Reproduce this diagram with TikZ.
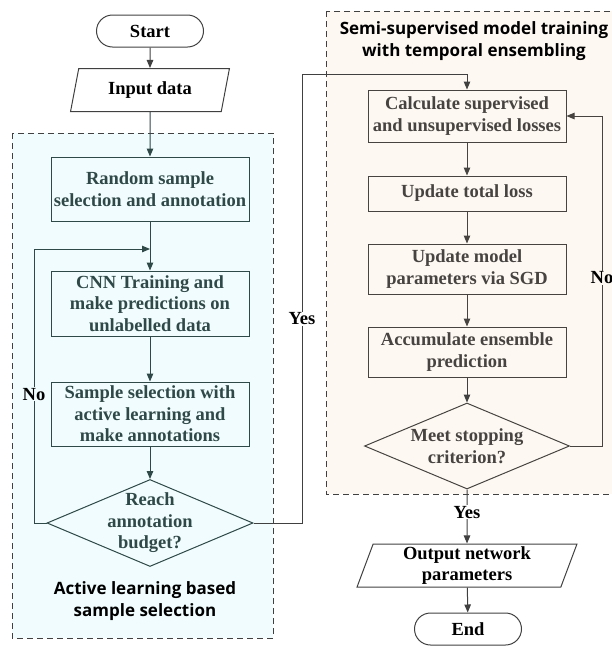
\documentclass[tikz,border=0pt]{standalone}
\usepackage{fontspec}
\setmainfont{Liberation Serif}
\newfontfamily\grpfont{Open Sans}
\usetikzlibrary{arrows.meta,shapes.geometric,shapes.misc,calc}
\definecolor{linec}{HTML}{404040}
\definecolor{leftc}{HTML}{2F4848}
\definecolor{rightc}{HTML}{474340}
\definecolor{leftfill}{HTML}{F0FCFD}
\definecolor{rightfill}{HTML}{FDF8F2}
\begin{document}
\begin{tikzpicture}[x=1pt,y=-1pt,
  txt/.style={font=\bfseries\fontsize{18.5}{21.5}\selectfont, align=center},
  box/.style={txt, draw=#1, line width=1pt, minimum width=198pt, inner sep=0pt},
  term/.style={txt, draw=linec, line width=1pt, rounded rectangle, minimum width=107pt, minimum height=32pt, inner sep=0pt, text=black},
  para/.style={txt, draw=linec, line width=1pt, trapezium, trapezium left angle=74, trapezium right angle=106, trapezium stretches=true, minimum height=43pt, inner sep=0pt, text=black},
  dia/.style={draw=#1, line width=1pt, diamond, minimum width=206pt, minimum height=87pt, inner sep=0pt},
  arrow/.style={-{Triangle[length=8pt,width=6.5pt]}, draw=#1, line width=1pt},
  arrow/.default=linec,
  lab/.style={txt, fill=#1, inner sep=1pt, text=black},
  grp/.style={font=\grpfont\bfseries\fontsize{17}{22}\selectfont, align=center, text=black},
  grpbox/.style={draw=linec, line width=1pt, dash pattern=on 6pt off 4pt, fill=#1}
]
\useasboundingbox (0,0) rectangle (612,646);
\clip (0,0) rectangle (612,646);

% group boxes
\draw[grpbox=leftfill] (12,133) rectangle (273,638);
\draw[grpbox=rightfill] (326,11) rectangle (640,494);
\node[grp] (gl) at (145,601) {Active learning based\\sample selection};
\node[grp] (gr) at (474,41) {Semi-supervised model training\\with temporal ensembling};

% left column
\node[term] (start) at (150,31) {Start};
\node[para, minimum width=159pt] (input) at (150,90) {Input data};
\node[box=leftc, text=leftc, minimum height=64pt] (rand) at (150,189) {Random sample\\selection and annotation};
\node[box=leftc, text=leftc, minimum height=65pt] (cnn) at (150,303.5) {CNN Training and\\make predictions on\\unlabelled data};
\node[box=leftc, text=leftc, minimum height=64pt] (samp) at (150,414) {Sample selection with\\active learning and\\make annotations};
\node[dia=leftc, label={[txt, text=leftc]center:Reach\\annotation\\budget?}] (reach) at (150,523) {};

% right column
\node[box=rightc, text=rightc, minimum height=52pt] (calc) at (467,116) {Calculate supervised\\and unsupervised losses};
\node[box=rightc, text=rightc, minimum height=35pt] (upd) at (467,193.5) {Update total loss};
\node[box=rightc, text=rightc, minimum height=50pt] (param) at (467,269) {Update model\\parameters via SGD};
\node[box=rightc, text=rightc, minimum height=50pt] (accum) at (467,352) {Accumulate ensemble\\prediction};
\node[dia=rightc, minimum width=205pt, minimum height=86pt, label={[txt, text=rightc]center:Meet stopping\\criterion?}] (meet) at (467,446) {};
\node[para, minimum width=220pt] (output) at (467,565.5) {Output network\\parameters};
\node[term] (end) at (468,629) {End};

% junctions
\coordinate (j1) at (150,249);
\coordinate (j2) at (302,74);
\coordinate (j3) at (602,116);

% connectors
\draw[arrow] (start) -- (input);
\draw[arrow=leftc] (input) -- (rand);
\draw[draw=leftc, line width=1pt] (rand) -- (j1);
\draw[arrow=leftc] (j1) -- (cnn);
\draw[arrow=leftc] (cnn) -- (samp);
\draw[arrow=leftc] (samp) -- (reach);
\draw[arrow=leftc] (reach.west) -- (reach.west -| 34,0) -- node[lab=leftfill, pos=0.47]{No} (34,249) -- (j1);
\draw[arrow] (reach.east) -- (reach.east -| j2) -- node[lab=white, pos=0.455]{Yes} (j2) -| (calc.north);
\draw[arrow=rightc] (calc) -- (upd);
\draw[arrow=rightc] (upd) -- (param);
\draw[arrow=rightc] (param) -- (accum);
\draw[arrow] (accum) -- (meet);
\draw[arrow=rightc] (meet.east) -- (meet.east -| j3) -- node[lab=rightfill, pos=0.51]{No} (j3) -- (calc.east);
\draw[arrow] (meet.south) -- node[lab=white, pos=0.42]{Yes} (output.north);
\draw[arrow] (output) -- (end);
\end{tikzpicture}
\end{document}
